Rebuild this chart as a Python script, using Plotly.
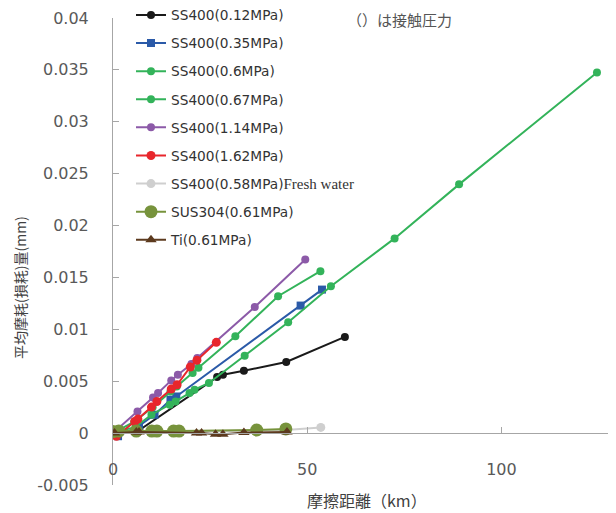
import plotly.graph_objects as go

# ---- data (distance km, wear mm) ----
names = ["SS400(0.12MPa)", "SS400(0.35MPa)", "SS400(0.6MPa)", "SS400(0.67MPa)",
         "SS400(1.14MPa)", "SS400(1.62MPa)",
         "SS400(0.58MPa)<span style='font-family:Liberation Serif;font-size:15px'>Fresh water</span>",
         "SUS304(0.61MPa)", "Ti(0.61MPa)"]

x_012 = [0, 6.8, 26.8, 28.3, 33.7, 44.6, 59.7]
y_012 = [0, 0.0003, 0.0054, 0.00563, 0.0060, 0.00685, 0.00927]

x_035 = [1.3, 6.7, 10.7, 14.8, 16.3, 48.3, 53.8]
y_035 = [-0.0003, 0.0007, 0.00177, 0.00322, 0.00353, 0.01229, 0.01383]

x_06 = [0, 5.8, 9.9, 14.6, 16.1, 19.7, 21.0, 24.7, 33.9, 45.1, 56.1, 72.5, 89.1, 124.6]
y_06 = [0, 0.0006, 0.00177, 0.00273, 0.00305, 0.00386, 0.00418, 0.00483, 0.00746,
        0.01068, 0.01415, 0.01876, 0.02397, 0.03475]

x_067 = [0, 5.5, 10.2, 14.8, 16.4, 20.5, 22.0, 31.5, 42.5, 53.4]
y_067 = [0, 0.0011, 0.0025, 0.0040, 0.0045, 0.0058, 0.0063, 0.00933, 0.01319, 0.0156]

x_114 = [0, 6.3, 10.3, 11.6, 15.0, 16.7, 20.2, 21.7, 36.5, 49.5]
y_114 = [0, 0.00209, 0.00344, 0.00386, 0.00508, 0.00563, 0.00666, 0.00724, 0.01216, 0.01673]

x_162 = [0.9, 5.6, 6.4, 9.9, 11.3, 15.0, 16.5, 19.9, 21.6, 26.6]
y_162 = [-0.0003, 0.00112, 0.00135, 0.00251, 0.00305, 0.00425, 0.00466, 0.00637, 0.00701, 0.00875]

x_058fw = [0, 44.5, 53.5]
y_058fw = [0, 0.0003, 0.00055]

x_sus = [0, 1.5, 6.0, 10.0, 11.3, 15.6, 17.0, 37.0, 44.5]
y_sus = [0.00015, 0.0002, 0.0002, 0.0002, 0.0002, 0.0002, 0.0002, 0.0003, 0.0004]

x_ti = [0.4, 6.0, 6.7, 21.5, 22.8, 26.4, 28.3, 33.7, 44.8]
y_ti = [0, 0.0001, 0.0001, 0, 0, -0.0001, -0.0001, 0.00005, 0.0001]

y_tickvals = [-0.005, 0, 0.005, 0.01, 0.015, 0.02, 0.025, 0.03, 0.035, 0.04]
y_ticktext = ["-0.005", "0", "0.005", "0.01", "0.015", "0.02", "0.025", "0.03", "0.035", "0.04"]
x_tickvals = [0, 50, 100]
x_ticktext = ["0", "50", "100"]

series = [
    (x_012, y_012, "#1a1a1a", "circle", 8),
    (x_035, y_035, "#2b5aa8", "square", 8),
    (x_06, y_06, "#33b35a", "circle", 8),
    (x_067, y_067, "#33b35a", "circle", 8),
    (x_114, y_114, "#8c5aa8", "circle", 8),
    (x_162, y_162, "#e8262c", "circle", 9),
    (x_058fw, y_058fw, "#cfcfcf", "circle", 9),
    (x_sus, y_sus, "#77933c", "circle", 13),
    (x_ti, y_ti, "#5c3a1e", "triangle-up", 10),
]

fig = go.Figure()
for i, (xs, ys, col, sym, sz) in enumerate(series):
    fig.add_trace(go.Scatter(
        x=xs, y=ys, name=names[i], mode="lines+markers",
        line=dict(color=col, width=2),
        marker=dict(color=col, symbol=sym, size=sz),
        legendgroup="g%d" % i,
        xaxis="x2" if i == len(series) - 1 else "x",
    ))

# page offset (default body margin of the html page)
OFF = 8
W, H = 616 - OFF, 513 - OFF
ml, mr, mt = 113 - OFF, 0, 18 - OFF
mb = H - (485 - OFF)
ph = H - mt - mb
pw = W - ml - mr
xmax = 129.5
axis_col = "#a6a6a6"
tick_font = dict(family="DejaVu Sans", size=16, color="#595959")


def py(page_y):
    # page pixel row -> paper fraction
    return (H - mb - (page_y - OFF)) / ph


def px(page_x):
    return (page_x - OFF - ml) / pw


fig.update_layout(
    width=W, height=H,
    margin=dict(l=ml, r=mr, t=mt, b=mb, autoexpand=False),
    paper_bgcolor="white", plot_bgcolor="white",
    showlegend=True,
    legend=dict(x=px(131), y=py(127.5), xanchor="left", yanchor="middle",
                font=dict(family="DejaVu Sans", size=13.7, color="#333333"),
                bgcolor="rgba(0,0,0,0)", tracegroupgap=7.3, traceorder="grouped"),
    xaxis=dict(range=[0, xmax], tickvals=x_tickvals, ticktext=x_ticktext,
               showline=False, ticks="", showgrid=False, zeroline=False,
               anchor="free", position=py(458), automargin=False,
               tickfont=tick_font),
    xaxis2=dict(range=[0, xmax], matches="x", overlaying="x", anchor="free",
                position=py(433.3), showline=True, linecolor=axis_col, linewidth=1,
                ticks="inside", ticklen=6, tickcolor=axis_col, tickvals=[0, 50, 100],
                showticklabels=False, showgrid=False, zeroline=False, automargin=False),
    yaxis=dict(range=[-0.005, 0.04], tickvals=y_tickvals, ticktext=y_ticktext,
               showline=True, linecolor=axis_col, linewidth=1, ticks="inside",
               ticklen=6, tickcolor=axis_col, showgrid=False, zeroline=False,
               ticklabelstandoff=20, automargin=False, tickfont=tick_font),
    annotations=[
        dict(text="（）は接触圧力", xref="paper", yref="paper", x=px(345),
             y=py(19), xanchor="left", yanchor="middle", showarrow=False,
             font=dict(family="Noto Sans CJK JP", size=15, color="#555555")),
        dict(text="摩擦距離（km）", xref="paper", yref="paper", x=px(367),
             y=py(500), xanchor="center", yanchor="middle", showarrow=False,
             font=dict(family="Noto Sans CJK JP", size=16, color="#404040")),
        dict(text="平均摩耗(損耗)量(mm)", xref="paper", yref="paper", x=px(20),
             y=py(288), xanchor="center", yanchor="middle", showarrow=False,
             textangle=-90,
             font=dict(family="Noto Sans CJK JP", size=14, color="#404040")),
    ],
)

fig.write_html("out.html")
